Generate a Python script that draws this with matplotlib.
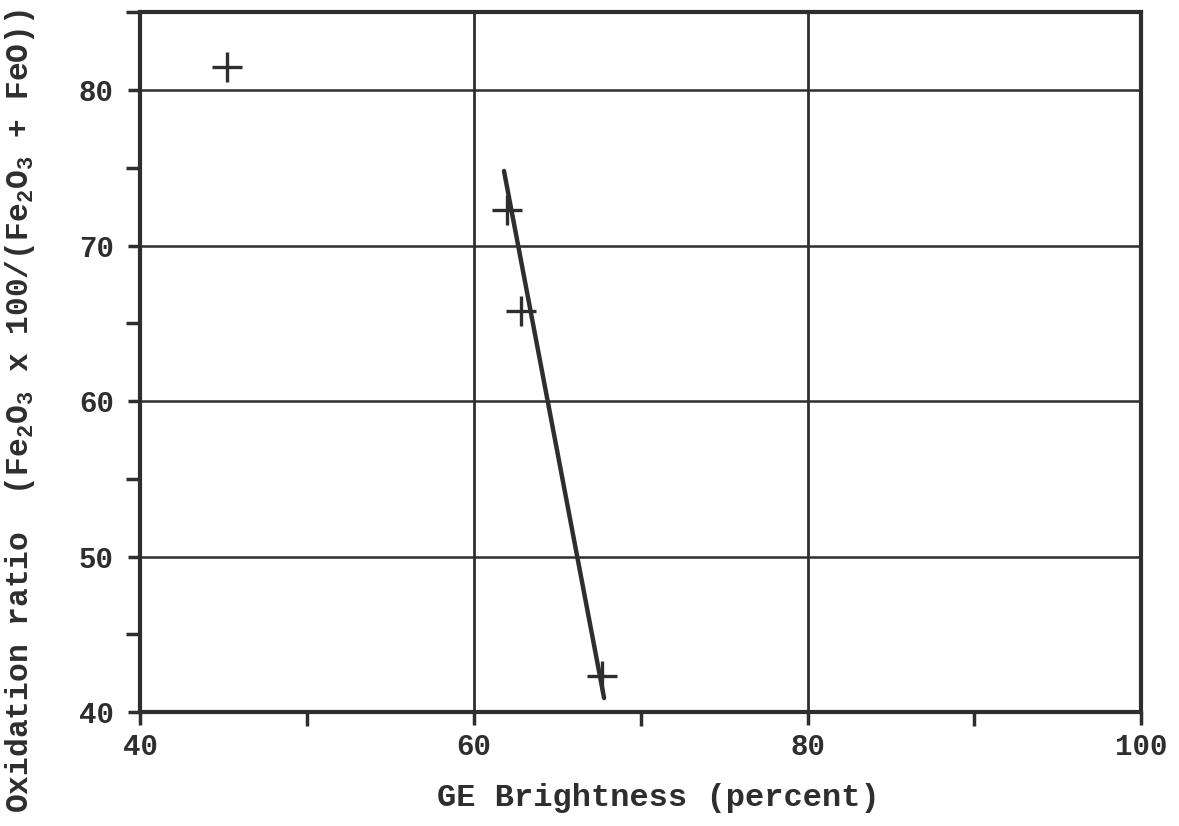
import matplotlib
matplotlib.use("Agg")
import matplotlib.pyplot as plt
from matplotlib.ticker import MultipleLocator

# Measured samples: GE brightness (%) vs oxidation ratio
brightness = [45.2, 62.0, 62.8, 67.7]
oxidation = [81.5, 72.3, 65.8, 42.3]

# Fitted trend line end points
trend_x = [61.8, 67.8]
trend_y = [74.8, 40.9]

x_ticks = [40, 60, 80, 100]
y_ticks = [40, 50, 60, 70, 80]

ink = "#2e2e2e"
plt.rcParams["font.family"] = ["Liberation Mono", "DejaVu Sans Mono"]
plt.rcParams["font.weight"] = "bold"
plt.rcParams["mathtext.default"] = "regular"

fig = plt.figure(figsize=(11.79, 8.26), dpi=100)
ax = fig.add_axes([0.119, 0.138, 0.849, 0.847])

ax.set_xlim(40, 100)
ax.set_ylim(40, 85)

# Grid lines at the major divisions
for gx in [60, 80]:
    ax.axvline(gx, color=ink, lw=2.0, zorder=1)
for gy in [50, 60, 70, 80]:
    ax.axhline(gy, color=ink, lw=1.8, zorder=1)

ax.plot(trend_x, trend_y, color=ink, lw=3.2, solid_capstyle="round", zorder=3)
ax.plot(brightness, oxidation, linestyle="none", marker="+", markersize=21,
        markeredgewidth=2.4, color=ink, zorder=4)

for s in ax.spines.values():
    s.set_color(ink)
    s.set_linewidth(3.0)

ax.set_xticks(x_ticks)
ax.set_yticks(y_ticks)
ax.xaxis.set_minor_locator(MultipleLocator(10))
ax.yaxis.set_minor_locator(MultipleLocator(5))
ax.tick_params(which="both", direction="out", color=ink, width=2.5,
               labelcolor=ink, labelsize=21)
ax.tick_params(which="major", length=9, pad=6)
ax.tick_params(which="minor", length=10)
ax.tick_params(axis="y", pad=10)
for lbl in ax.get_xticklabels() + ax.get_yticklabels():
    lbl.set_fontweight("bold")

ax.set_xlabel("GE Brightness (percent)", fontsize=23, fontweight="bold",
              color=ink)
ax.xaxis.set_label_coords(0.518, -0.101)
ax.set_ylabel("Oxidation ratio  (Fe$_2$O$_3$ x 100/(Fe$_2$O$_3$ + FeO))",
              fontsize=22.5, fontweight="bold", color=ink)
ax.yaxis.set_label_coords(-0.103, 0.43)

fig.savefig("out.png", dpi=100, facecolor="white")
